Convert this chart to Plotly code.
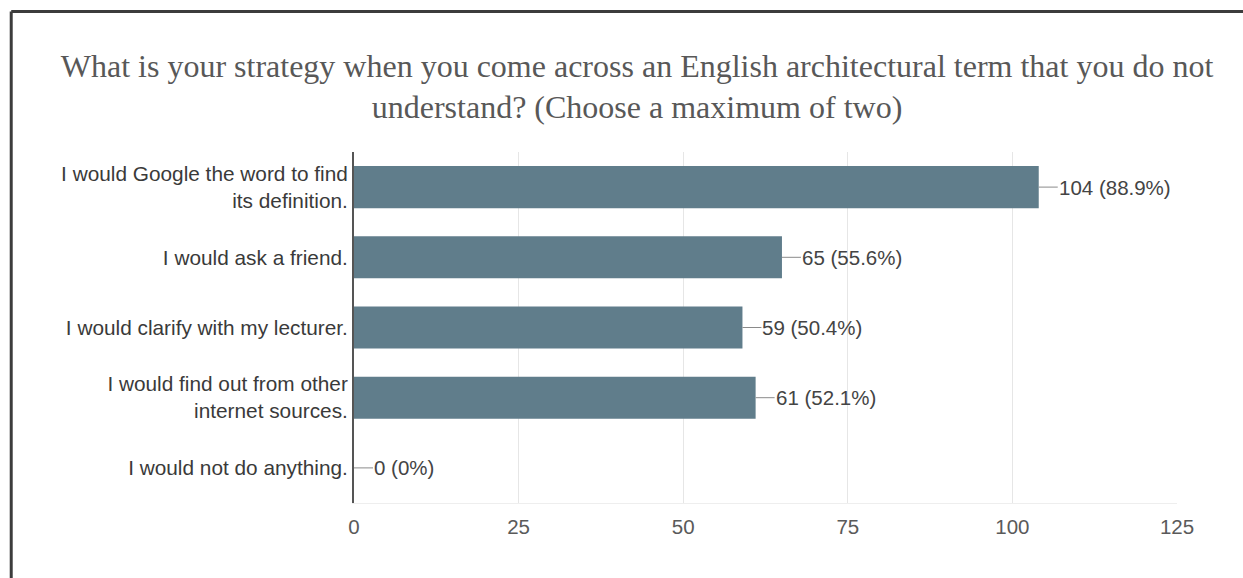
import plotly.graph_objects as go

# Survey responses (117 respondents, up to two choices each)
categories = [
    "I would Google the word to find<br>its definition.",
    "I would ask a friend.",
    "I would clarify with my lecturer.",
    "I would find out from other<br>internet sources.",
    "I would not do anything.",
]
counts = [104, 65, 59, 61, 0]
percents = ["88.9%", "55.6%", "50.4%", "52.1%", "0%"]
x_ticks = [0, 25, 50, 75, 100, 125]

title_text = ("What is your strategy when you come across an English architectural term that you do not"
              "<br>understand? (Choose a maximum of two)")

BAR_COLOR = "#607d8b"
LABEL_FONT = "Liberation Sans, Arial, sans-serif"

fig = go.Figure(
    go.Bar(
        x=counts,
        y=categories,
        orientation="h",
        marker=dict(color=BAR_COLOR, line=dict(width=0)),
        width=0.6,
        hoverinfo="skip",
    )
)

# value labels with a short leader line from the end of each bar
for cat, n, p in zip(categories, counts, percents):
    fig.add_annotation(
        x=n, y=cat, xref="x", yref="y",
        text=f"{n} ({p})",
        showarrow=True, arrowhead=0, arrowwidth=1, arrowcolor="#8a8a8a",
        ax=19, ay=0, standoff=0, xanchor="left", borderpad=0,
        font=dict(family=LABEL_FONT, size=20.5, color="#444444"),
    )

# outer frame (top and left edges)
fig.add_shape(type="line", xref="paper", yref="paper",
              x0=-0.4165, x1=1.2, y0=1.4005, y1=1.4005,
              line=dict(color="#3c3c3c", width=3))
fig.add_shape(type="line", xref="paper", yref="paper",
              x0=-0.4165, x1=-0.4165, y0=1.4005, y1=-0.4,
              line=dict(color="#3c3c3c", width=3))

fig.update_layout(
    width=1243, height=578,
    margin=dict(l=354, r=66, t=152, b=75),
    paper_bgcolor="white", plot_bgcolor="white",
    showlegend=False,
    title=dict(
        text=title_text,
        xref="container", x=0.5125, xanchor="center",
        yref="container", y=0.867, yanchor="middle",
        font=dict(family="Liberation Serif, Times New Roman, serif", size=32, color="#585858"),
    ),
    xaxis=dict(
        range=[0, 125], tickvals=x_ticks, ticktext=[str(v) for v in x_ticks],
        showgrid=True, gridcolor="#e6e6e6", gridwidth=1,
        zeroline=False, showline=True, linecolor="#eeeeee", linewidth=1,
        ticks="", ticklabelstandoff=5,
        tickfont=dict(family=LABEL_FONT, size=20.5, color="#5a5a5a"),
        fixedrange=True,
    ),
    yaxis=dict(
        autorange="reversed",
        showgrid=False, zeroline=False,
        showline=True, linecolor="#555555", linewidth=2,
        ticks="", ticklabelstandoff=0,
        tickfont=dict(family=LABEL_FONT, size=20.8, color="#3a3a3a"),
        fixedrange=True,
    ),
)

fig.write_html("out.html")
